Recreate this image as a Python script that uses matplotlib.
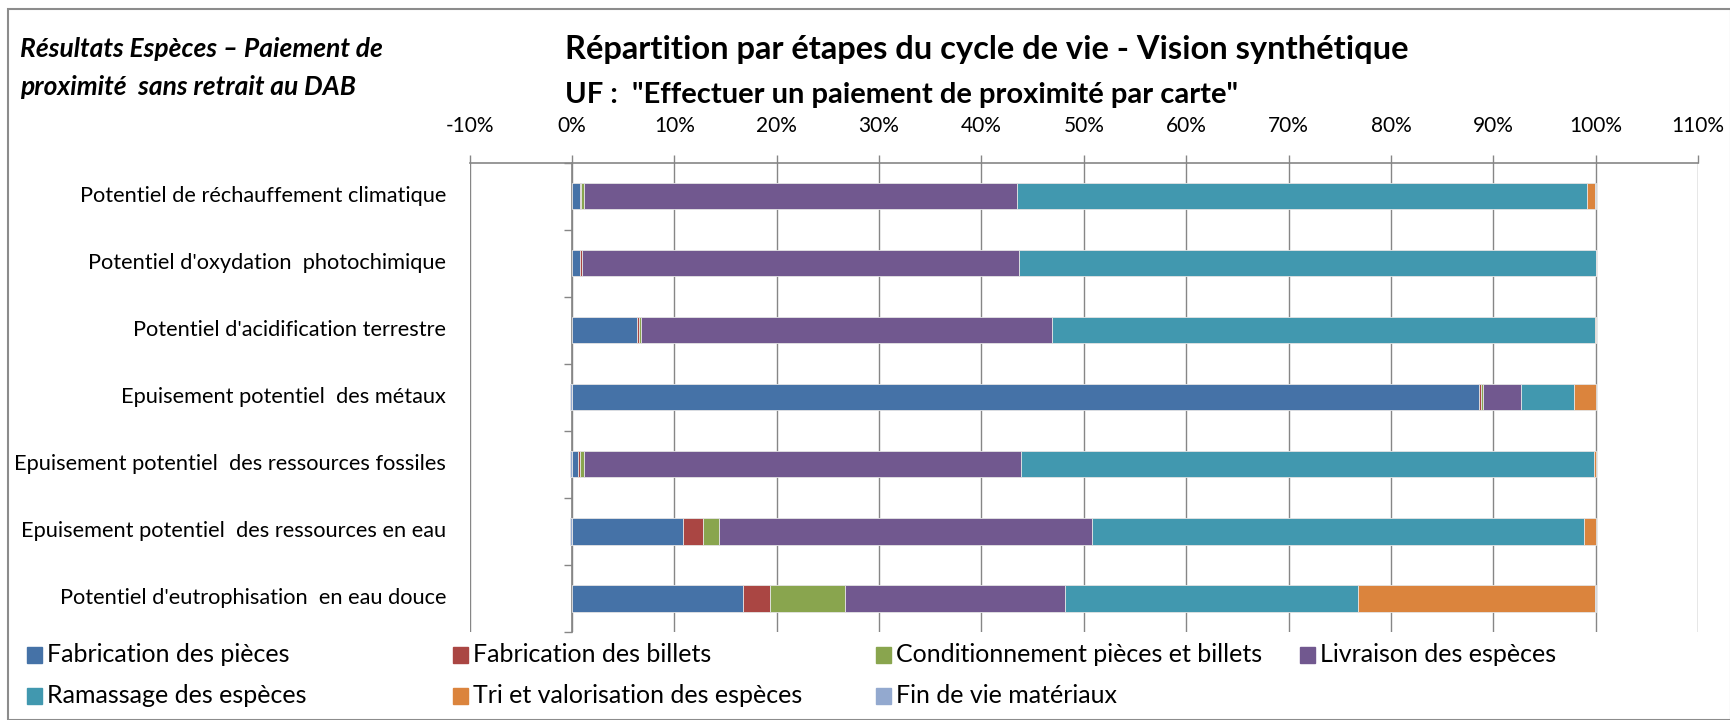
import matplotlib.pyplot as plt
import matplotlib.transforms as mtransforms
from matplotlib.patches import Rectangle
import numpy as np

plt.rcParams['font.family'] = ['Lato', 'DejaVu Sans']

categories = [
    "Potentiel de réchauffement climatique",
    "Potentiel d'oxydation  photochimique",
    "Potentiel d'acidification terrestre",
    "Epuisement potentiel  des métaux",
    "Epuisement potentiel  des ressources fossiles",
    "Epuisement potentiel  des ressources en eau",
    "Potentiel d'eutrophisation  en eau douce",
]

# parts in % for each stage of the life cycle
fab_pieces = [0.8, 0.8, 6.35, 88.6, 0.6, 10.8, 16.7]
fab_billets = [0.05, 0.15, 0.15, 0.2, 0.15, 2.0, 2.6]
conditionnement = [0.3, 0.0, 0.2, 0.15, 0.45, 1.6, 7.4]
livraison = [42.3, 42.75, 40.2, 3.75, 42.65, 36.4, 21.5]
ramassage = [55.75, 56.3, 53.0, 5.15, 56.0, 48.1, 28.6]
tri = [0.7, 0.0, 0.1, 2.15, 0.15, 1.1, 23.15]
fin_de_vie = [0.1, 0.0, 0.0, -0.2, -0.2, -0.2, 0.05]

series_names = ["Fabrication des pièces", "Fabrication des billets",
                "Conditionnement pièces et billets", "Livraison des espèces",
                "Ramassage des espèces", "Tri et valorisation des espèces",
                "Fin de vie matériaux"]
series = [fab_pieces, fab_billets, conditionnement, livraison,
          ramassage, tri, fin_de_vie]
colors = ['#4572A7', '#AA4643', '#89A54E', '#71588F',
          '#4198AF', '#DB843D', '#93A9CF']

W, H = 1731, 720
gray = '#868686'

fig = plt.figure(figsize=(W / 100, H / 100), dpi=100)
ax = fig.add_axes([469.6 / W, 1 - 632 / H, 1228.4 / W, 469.3 / H])

y = np.arange(len(categories))
pos = np.zeros(len(categories))
neg = np.zeros(len(categories))
for vals, col in zip(series, colors):
    v = np.array(vals)
    left = np.where(v >= 0, pos, neg)
    ax.barh(y, v, left=left, height=0.39, color=col,
            edgecolor='#e4e4e4', linewidth=0.6, zorder=3)
    pos += np.clip(v, 0, None)
    neg += np.clip(v, None, 0)

ax.set_xlim(-10, 110)
ax.set_ylim(6.5, -0.5)

ax.xaxis.tick_top()
ticks = list(range(-10, 111, 10))
ax.set_xticks(ticks)
ax.set_xticklabels([f'{t}%' for t in ticks])
ax.tick_params(axis='x', length=6, width=1, color=gray, pad=13,
               labelsize=15, direction='out')
ax.grid(axis='x', color=gray, linewidth=1)
ax.set_axisbelow(True)

ax.spines['bottom'].set_visible(False)
ax.spines['right'].set_visible(False)
ax.spines['top'].set_color(gray)
ax.spines['top'].set_linewidth(1.2)
ax.spines['left'].set_position(('data', 0))
ax.spines['left'].set_color(gray)
ax.spines['left'].set_linewidth(1.2)
ax.set_yticks(np.arange(-0.5, 7, 1))
ax.set_yticklabels([])
ax.tick_params(axis='y', length=6, width=1, color=gray, direction='out')

trans = mtransforms.blended_transform_factory(ax.transAxes, ax.transData)
for i, c in enumerate(categories):
    ax.text(-0.0192, i, c, transform=trans, ha='right', va='center',
            fontsize=15.7)

fig.text(565 / W, 1 - 50 / H,
         "Répartition par étapes du cycle de vie - Vision synthétique",
         ha='left', va='center', fontsize=23.5, fontweight='bold')
fig.text(565 / W, 1 - 95 / H,
         'UF :  "Effectuer un paiement de proximité par carte"',
         ha='left', va='center', fontsize=21, fontweight='bold')
fig.text(20 / W, 1 - 49 / H, "Résultats Espèces – Paiement de",
         ha='left', va='center', fontsize=19, fontweight='bold', style='italic')
fig.text(20 / W, 1 - 87 / H, "proximité  sans retrait au DAB",
         ha='left', va='center', fontsize=19, fontweight='bold', style='italic')

# legend, laid out like the Excel one (4 equal columns)
col_x = [27, 453, 876, 1300]
row_y = [654.5, 695.5]
for i, (name, col) in enumerate(zip(series_names, colors)):
    x0 = col_x[i % 4]
    yc = row_y[i // 4]
    fig.add_artist(Rectangle((x0 / W, 1 - (yc + 8) / H), 15 / W, 16 / H,
                             transform=fig.transFigure, color=col))
    fig.text((x0 + 20) / W, 1 - yc / H, name, ha='left', va='center',
             fontsize=18)

fig.add_artist(Rectangle((8 / W, 0), 1 - 8 / W, 1 - 9 / H,
                         transform=fig.transFigure, fill=False,
                         edgecolor='#8c8c8c', linewidth=1.5))

fig.savefig('out.png', dpi=100)
